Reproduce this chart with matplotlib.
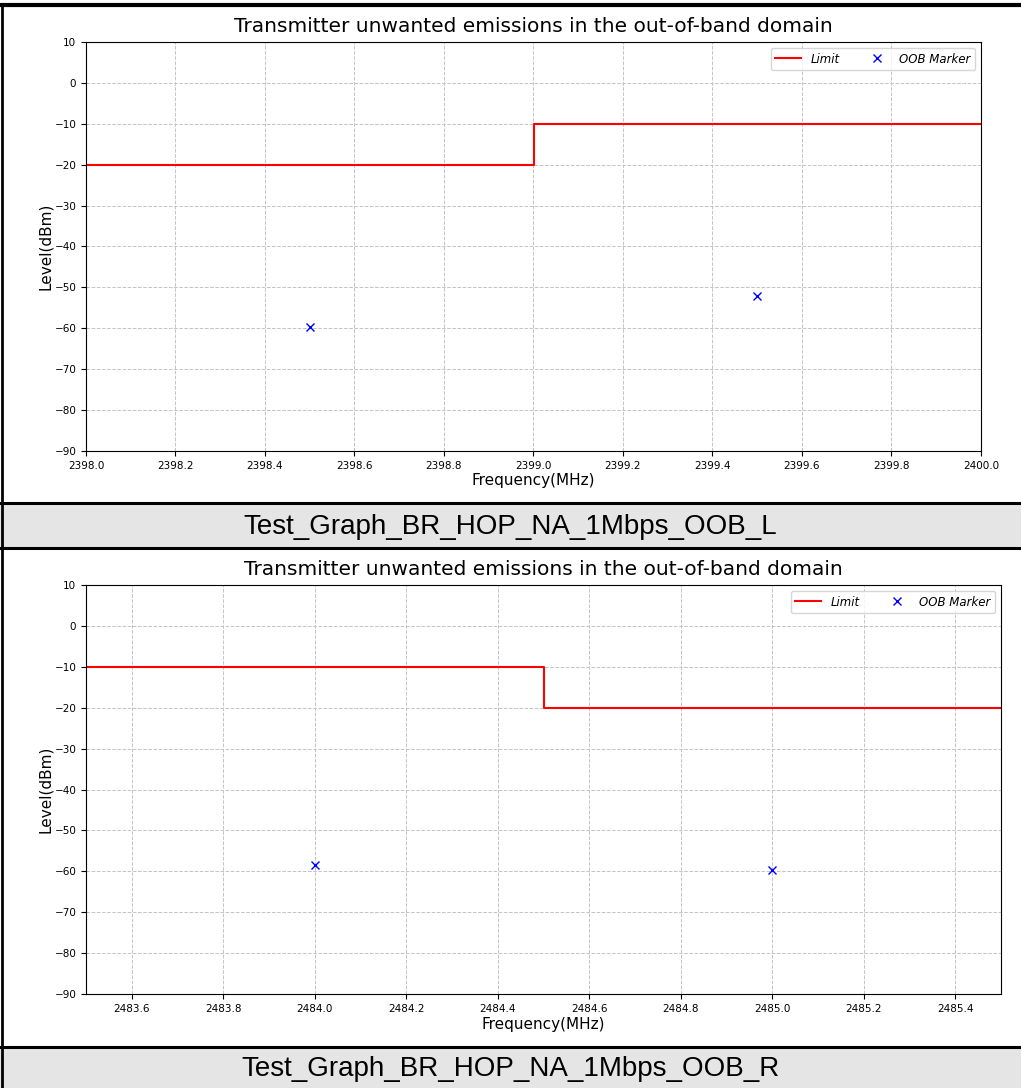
import numpy as np
import matplotlib.pyplot as plt
from matplotlib.patches import Rectangle
from matplotlib.lines import Line2D

# data
title = "Transmitter unwanted emissions in the out-of-band domain"

left_limit_freq = [2398.0, 2399.0, 2399.0, 2400.0]
left_limit_level = [-20, -20, -10, -10]
left_marker_freq = [2398.5, 2399.5]
left_marker_level = [-59.6, -52.2]
left_xlim = (2398.0, 2400.0)
left_caption = "Test_Graph_BR_HOP_NA_1Mbps_OOB_L"

right_limit_freq = [2483.5, 2484.5, 2484.5, 2485.5]
right_limit_level = [-10, -10, -20, -20]
right_marker_freq = [2484.0, 2485.0]
right_marker_level = [-58.5, -59.8]
right_xlim = (2483.5, 2485.5)
right_caption = "Test_Graph_BR_HOP_NA_1Mbps_OOB_R"

y_ticks = np.arange(-90, 11, 10)

W, H = 1021, 1088
fig = plt.figure(figsize=(W / 100, H / 100), dpi=100)


def fx(px):
    return px / W


def fy(py):
    return 1 - py / H


def draw_plot(ax, lf, ll, mf, ml, xlim):
    ax.plot(lf, ll, color="red", lw=1.5, label="Limit")
    ax.plot(mf, ml, "x", color="blue", ms=6, ls="none", label="OOB Marker")
    ax.set_xlim(*xlim)
    ax.set_ylim(-90, 10)
    ax.set_yticks(y_ticks)
    start = np.ceil(xlim[0] / 0.2 - 1e-6) * 0.2
    ax.set_xticks(np.arange(start, xlim[1] + 1e-6, 0.2))
    ax.xaxis.set_major_formatter(plt.FormatStrFormatter("%.1f"))
    ax.tick_params(labelsize=7.5)
    ax.grid(True, ls="--", color="#c4c4c4", lw=0.7)
    ax.set_title(title, fontsize=14.5, pad=7)
    ax.set_xlabel("Frequency(MHz)", fontsize=11, labelpad=2)
    ax.set_ylabel("Level(dBm)", fontsize=11, labelpad=1)
    ax.legend(loc="upper right", ncol=2, prop={"style": "italic", "size": 8.5},
              handlelength=2.2, columnspacing=2.0)


ax1 = fig.add_axes([fx(86), fy(451), fx(981 - 86), (451 - 42) / H])
draw_plot(ax1, left_limit_freq, left_limit_level, left_marker_freq, left_marker_level, left_xlim)

ax2 = fig.add_axes([fx(86), fy(994), fx(1001 - 86), (994 - 585) / H])
draw_plot(ax2, right_limit_freq, right_limit_level, right_marker_freq, right_marker_level, right_xlim)

# table cells around the plots
for top, bot, cap in [(503, 548, left_caption), (1047, 1088, right_caption)]:
    fig.patches.append(Rectangle((0, fy(bot)), 1, (bot - top) / H, transform=fig.transFigure,
                                 facecolor="#e5e5e5", edgecolor="none", zorder=-1))
    fig.text(0.5, fy((top + bot) / 2 + 1), cap, ha="center", va="center",
             fontsize=20, family="Liberation Sans")

for y, w in [(5, 3), (503, 2.2), (548, 2.2), (1047, 2.2)]:
    fig.lines.append(Line2D([0, 1], [fy(y), fy(y)], transform=fig.transFigure,
                            color="black", lw=w))
fig.lines.append(Line2D([fx(1.5), fx(1.5)], [0, fy(5)], transform=fig.transFigure,
                        color="black", lw=2))

fig.savefig("out.png", dpi=100)
